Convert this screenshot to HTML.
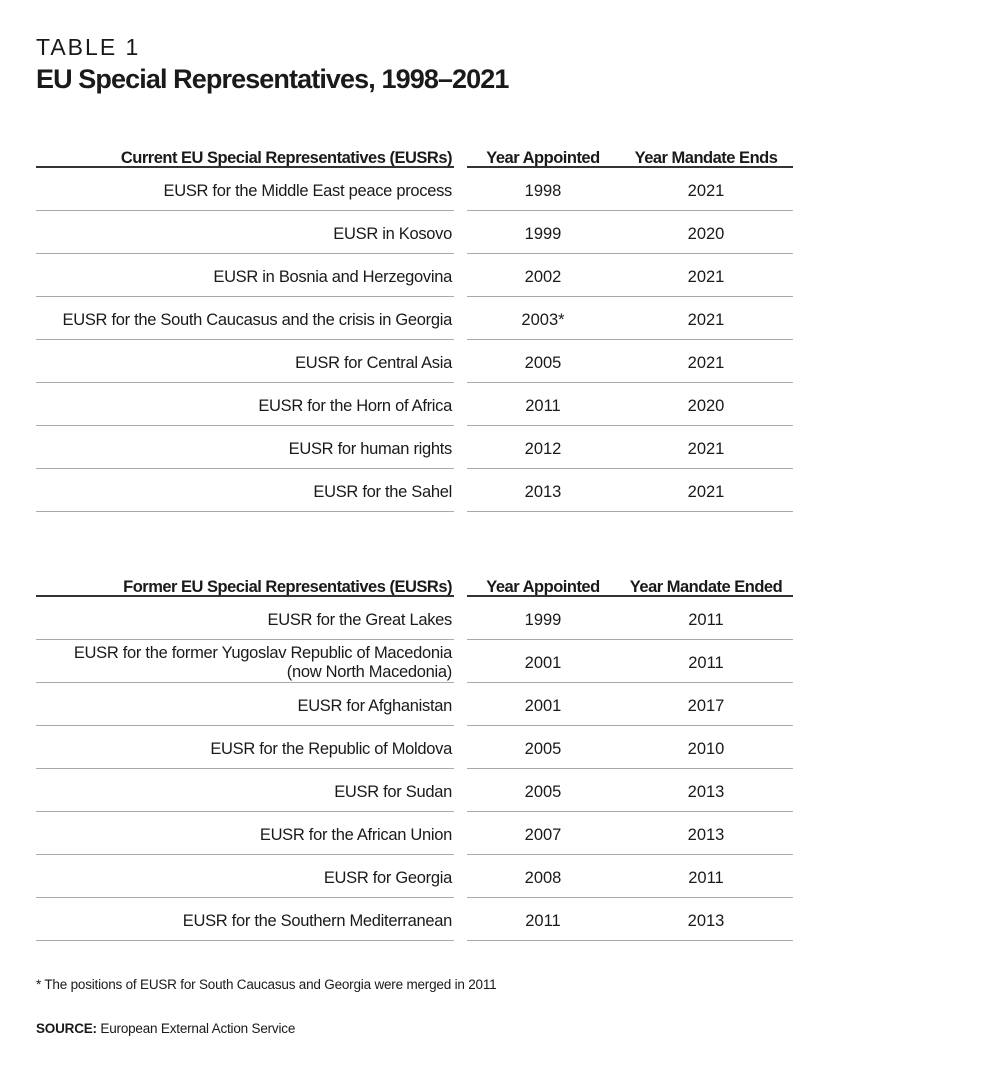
<!DOCTYPE html>
<html><head><meta charset="utf-8"><style>
body{margin:0;background:#fff;width:1000px;height:1078px;position:relative;font-family:"Liberation Sans",sans-serif;color:#1a1a1a;overflow:hidden}
.a{position:absolute;white-space:nowrap}
.t1{left:36px;top:34px;font-size:23px;letter-spacing:2px;font-weight:normal}
.t2{left:36px;top:64px;font-size:27px;font-weight:bold;letter-spacing:-0.9px}
.l{right:548px;font-size:16.5px;letter-spacing:-0.3px;text-align:right;line-height:19px}
.c1{left:467px;width:152px;text-align:center;font-size:16.5px}
.c2{left:619px;width:174px;text-align:center;font-size:16.5px}
.l,.c1,.c2,.fn{margin-top:2px}
.h{font-weight:bold;letter-spacing:-0.5px}
.ln{position:absolute;height:1px;background:#aaa}
.hl{position:absolute;height:2px;background:#333}
.fn{left:36px;font-size:13.5px;letter-spacing:-0.2px}
</style></head><body>
<div class="a t1">TABLE 1</div>
<div class="a t2">EU Special Representatives, 1998–2021</div>

<div class="a l h" style="top:147px">Current EU Special Representatives (EUSRs)</div>
<div class="a c1 h" style="top:147px">Year Appointed</div>
<div class="a c2 h" style="top:147px">Year Mandate Ends</div>
<div class="hl" style="left:36px;width:418px;top:166px"></div>
<div class="hl" style="left:467px;width:326px;top:166px"></div>

<div class="a l" style="top:180px">EUSR for the Middle East peace process</div><div class="a c1" style="top:180px">1998</div><div class="a c2" style="top:180px">2021</div>
<div class="ln" style="left:36px;width:418px;top:210px"></div><div class="ln" style="left:467px;width:326px;top:210px"></div>
<div class="a l" style="top:223px">EUSR in Kosovo</div><div class="a c1" style="top:223px">1999</div><div class="a c2" style="top:223px">2020</div>
<div class="ln" style="left:36px;width:418px;top:253px"></div><div class="ln" style="left:467px;width:326px;top:253px"></div>
<div class="a l" style="top:266px">EUSR in Bosnia and Herzegovina</div><div class="a c1" style="top:266px">2002</div><div class="a c2" style="top:266px">2021</div>
<div class="ln" style="left:36px;width:418px;top:296px"></div><div class="ln" style="left:467px;width:326px;top:296px"></div>
<div class="a l" style="top:309px">EUSR for the South Caucasus and the crisis in Georgia</div><div class="a c1" style="top:309px">2003*</div><div class="a c2" style="top:309px">2021</div>
<div class="ln" style="left:36px;width:418px;top:339px"></div><div class="ln" style="left:467px;width:326px;top:339px"></div>
<div class="a l" style="top:352px">EUSR for Central Asia</div><div class="a c1" style="top:352px">2005</div><div class="a c2" style="top:352px">2021</div>
<div class="ln" style="left:36px;width:418px;top:382px"></div><div class="ln" style="left:467px;width:326px;top:382px"></div>
<div class="a l" style="top:395px">EUSR for the Horn of Africa</div><div class="a c1" style="top:395px">2011</div><div class="a c2" style="top:395px">2020</div>
<div class="ln" style="left:36px;width:418px;top:425px"></div><div class="ln" style="left:467px;width:326px;top:425px"></div>
<div class="a l" style="top:438px">EUSR for human rights</div><div class="a c1" style="top:438px">2012</div><div class="a c2" style="top:438px">2021</div>
<div class="ln" style="left:36px;width:418px;top:468px"></div><div class="ln" style="left:467px;width:326px;top:468px"></div>
<div class="a l" style="top:481px">EUSR for the Sahel</div><div class="a c1" style="top:481px">2013</div><div class="a c2" style="top:481px">2021</div>
<div class="ln" style="left:36px;width:418px;top:511px"></div><div class="ln" style="left:467px;width:326px;top:511px"></div>

<div class="a l h" style="top:576px">Former EU Special Representatives (EUSRs)</div>
<div class="a c1 h" style="top:576px">Year Appointed</div>
<div class="a c2 h" style="top:576px">Year Mandate Ended</div>
<div class="hl" style="left:36px;width:418px;top:595px"></div>
<div class="hl" style="left:467px;width:326px;top:595px"></div>

<div class="a l" style="top:609px">EUSR for the Great Lakes</div><div class="a c1" style="top:609px">1999</div><div class="a c2" style="top:609px">2011</div>
<div class="ln" style="left:36px;width:418px;top:639px"></div><div class="ln" style="left:467px;width:326px;top:639px"></div>
<div class="a l" style="top:642px">EUSR for the former Yugoslav Republic of Macedonia<br>(now North Macedonia)</div><div class="a c1" style="top:652px">2001</div><div class="a c2" style="top:652px">2011</div>
<div class="ln" style="left:36px;width:418px;top:682px"></div><div class="ln" style="left:467px;width:326px;top:682px"></div>
<div class="a l" style="top:695px">EUSR for Afghanistan</div><div class="a c1" style="top:695px">2001</div><div class="a c2" style="top:695px">2017</div>
<div class="ln" style="left:36px;width:418px;top:725px"></div><div class="ln" style="left:467px;width:326px;top:725px"></div>
<div class="a l" style="top:738px">EUSR for the Republic of Moldova</div><div class="a c1" style="top:738px">2005</div><div class="a c2" style="top:738px">2010</div>
<div class="ln" style="left:36px;width:418px;top:768px"></div><div class="ln" style="left:467px;width:326px;top:768px"></div>
<div class="a l" style="top:781px">EUSR for Sudan</div><div class="a c1" style="top:781px">2005</div><div class="a c2" style="top:781px">2013</div>
<div class="ln" style="left:36px;width:418px;top:811px"></div><div class="ln" style="left:467px;width:326px;top:811px"></div>
<div class="a l" style="top:824px">EUSR for the African Union</div><div class="a c1" style="top:824px">2007</div><div class="a c2" style="top:824px">2013</div>
<div class="ln" style="left:36px;width:418px;top:854px"></div><div class="ln" style="left:467px;width:326px;top:854px"></div>
<div class="a l" style="top:867px">EUSR for Georgia</div><div class="a c1" style="top:867px">2008</div><div class="a c2" style="top:867px">2011</div>
<div class="ln" style="left:36px;width:418px;top:897px"></div><div class="ln" style="left:467px;width:326px;top:897px"></div>
<div class="a l" style="top:910px">EUSR for the Southern Mediterranean</div><div class="a c1" style="top:910px">2011</div><div class="a c2" style="top:910px">2013</div>
<div class="ln" style="left:36px;width:418px;top:940px"></div><div class="ln" style="left:467px;width:326px;top:940px"></div>

<div class="a fn" style="top:975px">* The positions of EUSR for South Caucasus and Georgia were merged in 2011</div>
<div class="a fn" style="top:1019px"><b>SOURCE:</b> European External Action Service</div>
</body></html>
